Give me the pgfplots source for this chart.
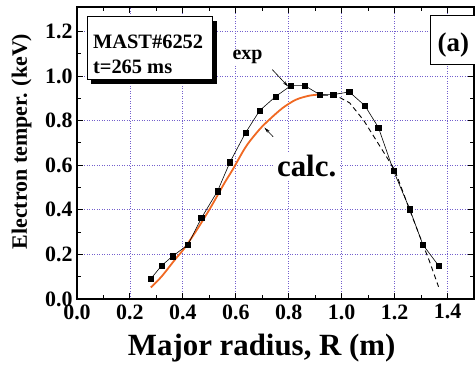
\documentclass[border=0pt]{standalone}
\usepackage{pgfplots}
\pgfplotsset{compat=1.18}
\usepackage{fontspec}
\setmainfont{Liberation Serif}
\usetikzlibrary{arrows.meta}
\definecolor{gridc}{RGB}{115,95,205}
\definecolor{calcc}{RGB}{240,105,35}
\newcommand{\tkf}{\fontsize{22}{22}\selectfont\bfseries}
\begin{document}
\begin{tikzpicture}
\begin{axis}[
  width=397bp, height=292bp, scale only axis,
  xmin=0, xmax=1.5, ymin=0, ymax=1.31,
  xtick={0,0.2,0.4,0.6,0.8,1.0,1.2,1.4},
  ytick={0,0.2,0.4,0.6,0.8,1.0,1.2},
  minor tick num=1,
  tick align=inside,
  major tick length=6bp, minor tick length=4bp,
  tick style={black, line width=1bp},
  axis line style={line width=1.6bp},
  grid=major,
  major grid style={gridc, line width=0.8bp, dash pattern=on 0.9bp off 1.6bp},
  tick label style={font=\tkf},
  xticklabel style={yshift=-2bp},
  yticklabel style={xshift=-1bp},
  /pgf/number format/assume math mode=true,
  xticklabel={\tkf\pgfmathprintnumber[fixed,fixed zerofill,precision=1]{\tick}},
  yticklabel={\tkf\pgfmathprintnumber[fixed,fixed zerofill,precision=1]{\tick}},
  xlabel={Major radius, R (m)},
  xlabel style={font=\fontsize{31}{31}\selectfont\bfseries, at={(axis cs:0.698,0)}, anchor=base, yshift=-56bp},
  ylabel={Electron temper. (keV)},
  ylabel style={font=\fontsize{22}{22}\selectfont\bfseries, at={(axis description cs:-0.126,0.539)}, anchor=base},
  clip=false,
]
% calc curve
\addplot[calcc, line width=1.8bp, smooth] coordinates {
(0.279,0.052) (0.319,0.100) (0.369,0.175) (0.406,0.228) (0.457,0.318)
(0.507,0.415) (0.557,0.520) (0.588,0.580) (0.639,0.685) (0.689,0.760)
(0.726,0.804) (0.777,0.857) (0.827,0.894) (0.877,0.912) (0.915,0.917)
};
% dashed fit
\addplot[black, line width=0.9bp, dash pattern=on 5bp off 3.5bp] coordinates {
(0.93,0.915) (0.98,0.912) (1.03,0.88) (1.084,0.80) (1.16,0.656) (1.2,0.58)
(1.257,0.40) (1.31,0.235) (1.33,0.175) (1.366,0.055)
};
% exp data
\addplot[black, line width=0.6bp, mark=square*, mark size=2.7bp, mark options={solid}] coordinates {
(0.279,0.091) (0.320,0.150) (0.361,0.192) (0.419,0.243) (0.470,0.363)
(0.531,0.484) (0.578,0.614) (0.637,0.746) (0.690,0.845) (0.750,0.908)
(0.808,0.957) (0.861,0.957) (0.917,0.917) (0.968,0.917) (1.029,0.929)
(1.088,0.867) (1.139,0.769) (1.196,0.575) (1.257,0.403) (1.307,0.243)
(1.366,0.150)
};
% MAST box with shadow
\fill[black] ([xshift=4bp,yshift=-4bp]axis cs:0.038,1.267) rectangle ([xshift=4bp,yshift=-4bp]axis cs:0.512,0.984);
\filldraw[fill=white, draw=black, line width=0.8bp] (axis cs:0.038,1.267) rectangle (axis cs:0.512,0.984);
\node[anchor=base west, inner sep=0pt, font=\fontsize{20.5}{20.5}\selectfont\bfseries] at (axis cs:0.06,1.126) {MAST\#6252};
\node[anchor=base west, inner sep=0pt, font=\fontsize{20.5}{20.5}\selectfont\bfseries] at (axis cs:0.06,1.013) {t=265 ms};
% (a) box
\filldraw[fill=white, draw=black, line width=0.8bp] (axis cs:1.336,1.272) rectangle (axis cs:1.53,1.052);
\node[anchor=base west, inner sep=0pt, font=\fontsize{27}{27}\selectfont\bfseries] at (axis cs:1.362,1.11) {(a)};
% labels
\node[anchor=base west, fill=white, inner sep=1bp, font=\fontsize{20}{20}\selectfont\bfseries] at (axis cs:0.583,1.074) {exp};
\node[anchor=base west, fill=white, inner xsep=4bp, inner ysep=2bp, font=\fontsize{31}{31}\selectfont\bfseries] at (axis cs:0.74,0.548) {calc.};
\draw[black, line width=0.6bp, -{Stealth[length=6bp,width=3bp]}] (axis cs:0.738,1.029) -- (axis cs:0.798,0.953);
\draw[black, line width=0.6bp, -{Stealth[length=6bp,width=3bp]}] (axis cs:0.741,0.728) -- (axis cs:0.708,0.769);
\coordinate (bbl) at ([xshift=-77bp,yshift=-68bp]axis cs:0,0);
\coordinate (btr) at ([xshift=1bp,yshift=7bp]axis cs:1.5,1.31);
\end{axis}
\pgfresetboundingbox
\path[use as bounding box] (bbl) rectangle (btr);
\end{tikzpicture}
\end{document}
